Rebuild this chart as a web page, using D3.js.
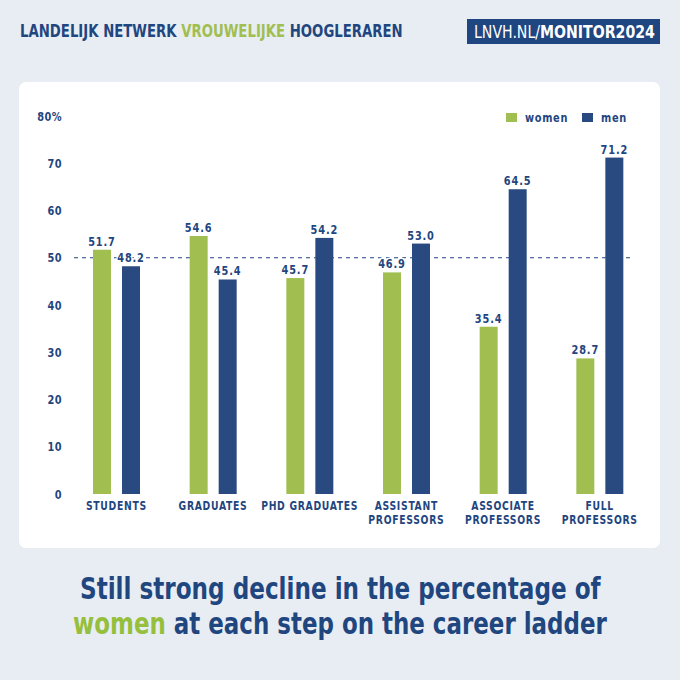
<html>
    <head>
        <style>
        body {
            margin: 0;
            background: #e8edf3;
        }
        svg text {
            font-family: 'DejaVu Sans Condensed', 'Liberation Sans Narrow', Roboto, sans-serif;
        }
        </style>
    </head>
    <body>
        <svg width="680" height="680"></svg>

        <script src="https://d3js.org/d3.v7.min.js"></script>
        <script>
            // data
            let categories = [["STUDENTS"], ["GRADUATES"], ["PHD GRADUATES"], ["ASSISTANT", "PROFESSORS"], ["ASSOCIATE", "PROFESSORS"], ["FULL", "PROFESSORS"]]
            let women = [51.7, 54.6, 45.7, 46.9, 35.4, 28.7]
            let men = [48.2, 45.4, 54.2, 53.0, 64.5, 71.2]
            let yTicks = [0, 10, 20, 30, 40, 50, 60, 70, 80]
            let seriesNames = ["women", "men"]

            let green = "#a1be51"
            let blue = "#284a80"
            let textBlue = "#1f467f"
            let squeeze = 0.84   // fake a condensed face

            let svg = d3.select("svg")

            // text that is stretched to fill a given width from x
            function fitText(g, x, y, width) {
                let t = g.append("text")
                return {
                    t: t,
                    done: function () {
                        let len = t.node().getComputedTextLength()
                        t.attr("transform", "translate(" + x + "," + y + ") scale(" + (width / len) + ",1)")
                    }
                }
            }

            svg.append("rect")
                .attr("width", 680).attr("height", 680)
                .attr("fill", "#e8edf3")

            // header
            let head = fitText(svg, 20, 37, 383)
            head.t.style("font-size", "17px").style("font-weight", "bold").attr("fill", textBlue)
            head.t.append("tspan").text("LANDELIJK NETWERK ")
            head.t.append("tspan").attr("fill", green).text("VROUWELIJKE")
            head.t.append("tspan").text(" HOOGLERAREN")
            head.done()

            svg.append("rect")
                .attr("x", 467).attr("y", 19).attr("width", 193).attr("height", 25)
                .attr("fill", "#1f4680")
            let badge = fitText(svg, 474, 38, 181)
            badge.t.style("font-size", "17px").attr("fill", "white")
            badge.t.append("tspan").text("LNVH.NL/")
            badge.t.append("tspan").style("font-weight", "bold").text("MONITOR2024")
            badge.done()

            // card
            svg.append("rect")
                .attr("x", 19).attr("y", 82).attr("width", 641).attr("height", 466)
                .attr("rx", 7)
                .attr("fill", "white")

            let y = d3.scaleLinear().domain([0, 80]).range([494, 116])
            let x0 = d3.scaleBand().domain(d3.range(categories.length)).range([68, 648])
            let x1 = d3.scaleBand().domain(seriesNames).range([25, 72]).paddingInner(0.38)
            let colour = d3.scaleOrdinal().domain(seriesNames).range([green, blue])

            // y labels
            svg.append("g").selectAll("text")
                .data(yTicks)
                .enter().append("text")
                .attr("transform", d => "translate(62," + (y(d) + 4.5) + ") scale(" + squeeze + ",1)")
                .attr("text-anchor", "end")
                .style("font-size", "13px").style("font-weight", "bold")
                .style("letter-spacing", "0.5px")
                .attr("fill", textBlue)
                .text(d => d == 80 ? d + "%" : d)

            // 50% reference line
            svg.append("line")
                .attr("x1", 74).attr("x2", 634)
                .attr("y1", y(50)).attr("y2", y(50))
                .attr("stroke", textBlue)
                .attr("stroke-width", 1.2)
                .attr("stroke-dasharray", "4,4")

            let rows = categories.map((c, i) => ({ i: i, women: women[i], men: men[i] }))

            let groups = svg.append("g")
                .selectAll(".group")
                .data(rows)
                .enter().append("g")
                .attr("transform", d => "translate(" + x0(d.i) + ",0)")

            groups.selectAll("rect")
                .data(d => seriesNames.map(k => ({ key: k, value: d[k] })))
                .enter().append("rect")
                .attr("x", d => x1(d.key))
                .attr("width", x1.bandwidth())
                .attr("y", d => y(d.value))
                .attr("height", d => y(0) - y(d.value))
                .attr("fill", d => colour(d.key))

            // white halo so the dashed line stops at the numbers
            groups.selectAll(".val")
                .data(d => seriesNames.map(k => ({ key: k, value: d[k] })))
                .enter().append("text")
                .attr("transform", d => "translate(" + (x1(d.key) + x1.bandwidth() / 2) + "," + (y(d.value) - 4) + ") scale(" + squeeze + ",1)")
                .attr("text-anchor", "middle")
                .style("font-size", "13px").style("font-weight", "bold")
                .style("letter-spacing", "1px")
                .style("paint-order", "stroke")
                .attr("stroke", "white").attr("stroke-width", 3)
                .attr("fill", textBlue)
                .text(d => d.value.toFixed(1))

            // category labels
            let cat = svg.append("g").selectAll("text")
                .data(categories)
                .enter().append("text")
                .attr("transform", (d, i) => "translate(" + (x0(i) + x0.bandwidth() / 2) + ",510) scale(0.86,1)")
                .attr("text-anchor", "middle")
                .style("font-size", "12px").style("font-weight", "bold")
                .style("letter-spacing", "0.8px")
                .attr("fill", textBlue)
            cat.selectAll("tspan")
                .data(d => d)
                .enter().append("tspan")
                .attr("x", 0)
                .attr("dy", (d, i) => i == 0 ? 0 : 14)
                .text(d => d)

            // legend
            let legend = svg.append("g").selectAll("g")
                .data(seriesNames)
                .enter().append("g")
                .attr("transform", (d, i) => "translate(" + [506, 582][i] + ",113)")
            legend.append("rect")
                .attr("width", 11).attr("height", 9)
                .attr("fill", d => colour(d))
            legend.append("text")
                .attr("transform", "translate(19,8.5) scale(" + squeeze + ",1)")
                .style("font-size", "13px").style("font-weight", "bold")
                .style("letter-spacing", "0.8px")
                .attr("fill", textBlue)
                .text(d => d)

            // bottom title
            let t1 = fitText(svg, 80, 599, 521)
            t1.t.style("font-size", "30px").style("font-weight", "bold")
                .attr("fill", textBlue)
                .text("Still strong decline in the percentage of")
            t1.done()
            let t2 = fitText(svg, 73, 634, 534)
            t2.t.style("font-size", "30px").style("font-weight", "bold")
                .attr("fill", textBlue)
            t2.t.append("tspan").attr("fill", "#95bf3c").text("women")
            t2.t.append("tspan").text(" at each step on the career ladder")
            t2.done()
        </script>
    </body>
</html>
